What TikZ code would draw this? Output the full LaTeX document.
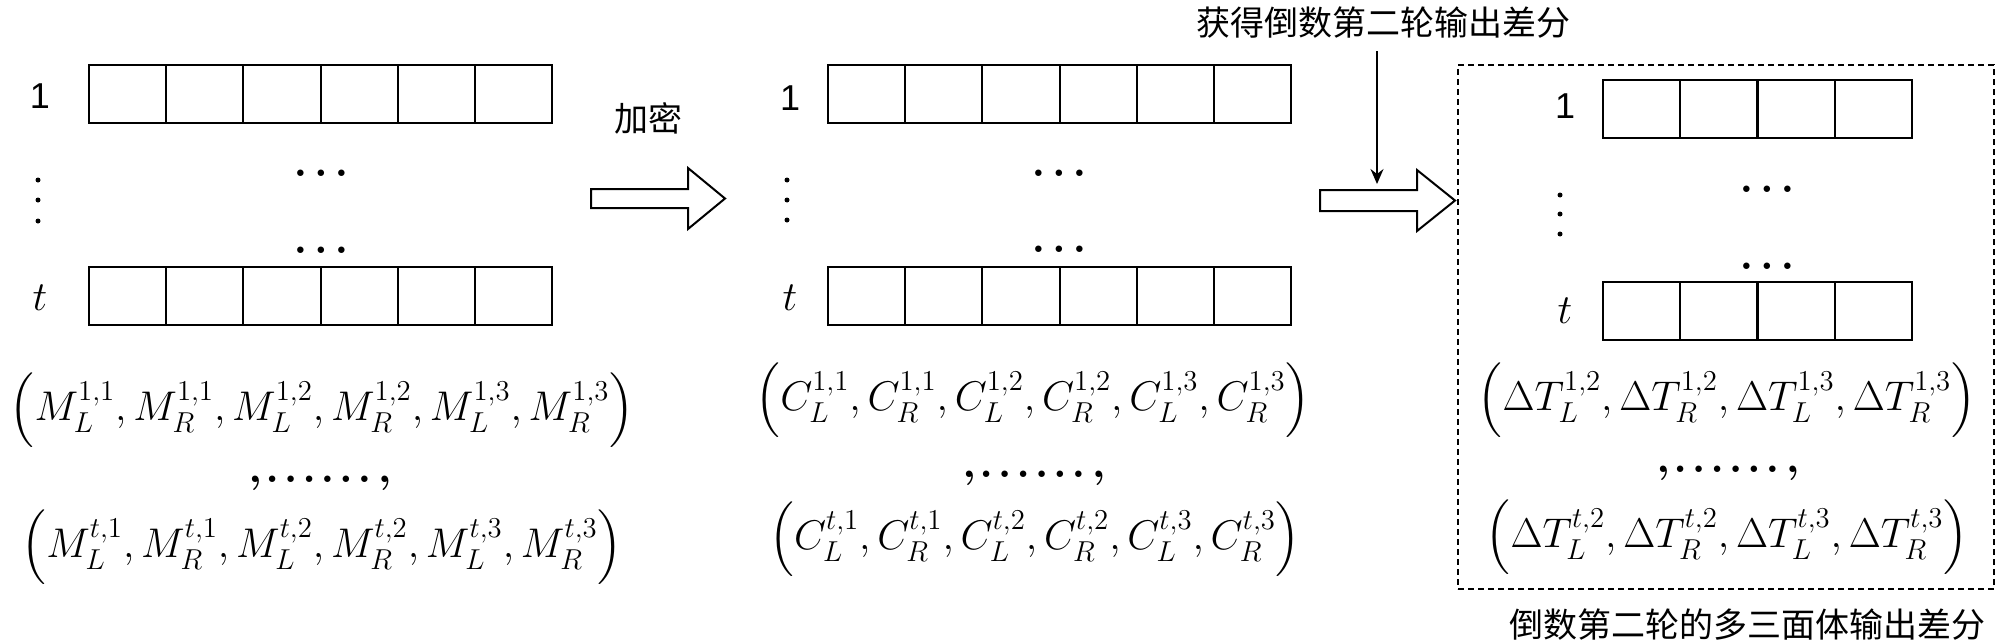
\documentclass[tikz,border=0pt]{standalone}
\usepackage{amsmath}
\usepackage{fontspec}
\newfontfamily\cjk{Noto Sans CJK SC}
\newfontfamily\lsans{Liberation Sans}
\usetikzlibrary{arrows.meta}
\newcommand\hdotsr{.\kern3.6pt.\kern3.6pt.}
\newcommand\sixdots{,\kern-2pt.\kern2.6pt.\kern2.6pt.\kern2.6pt.\kern2.6pt.\kern2.6pt.\kern3.5pt,}
\tikzset{
  cell/.style={draw, line width=1pt, minimum width=38.6pt, minimum height=29pt, inner sep=0pt, outer sep=0pt, anchor=north west},
  cjktext/.style={font=\cjk\fontsize{17}{20}\selectfont, inner sep=0pt},
  mathtext/.style={font=\fontsize{21}{25}\selectfont, inner sep=0pt},
  dotstext/.style={font=\fontsize{21}{25}\selectfont\boldmath, inner sep=0pt},
  vdot/.style={circle, fill, minimum size=2.5pt, inner sep=0pt},
  numlabel/.style={font=\lsans\fontsize{18}{20}\selectfont, inner sep=0pt},
  blockarrow/.style={draw, line width=1pt, fill=white, line join=miter},
  dashbox/.style={draw, line width=0.8pt, dash pattern=on 3pt off 2pt},
  thinarrow/.style={draw, line width=0.8pt, -{Stealth[length=7.5pt,width=6.5pt,inset=2.5pt]}}
}
\begin{document}
\begin{tikzpicture}[x=0.5pt,y=-0.5pt]
\useasboundingbox (0,0) rectangle (2000,643);
% ---------- left block ----------
\foreach \i in {0,...,5} {
  \node[cell] (La\i) at ({89+77.17*\i},65) {};
  \node[cell] (Lb\i) at ({89+77.17*\i},267) {};
}
\node[numlabel] (Lone) at (40,96) {1};
\node[mathtext] (Lt) at (40,298) {$t$};
\foreach \j/\y in {1/180,2/200,3/221} \node[vdot] (Lv\j) at (38,\y) {};
\node[dotstext] (Lhd1) at (321,173) {$\hdotsr$};
\node[dotstext] (Lhd2) at (321,250) {$\hdotsr$};
\node[mathtext] (Ltup1) at (322,410) {$\Bigl(M_L^{1,1},M_R^{1,1},M_L^{1,2},M_R^{1,2},M_L^{1,3},M_R^{1,3}\Bigr)$};
\node[dotstext] (Ldots) at (320,483) {$\sixdots$};
\node[mathtext] (Ltupt) at (322,547) {$\Bigl(M_L^{t,1},M_R^{t,1},M_L^{t,2},M_R^{t,2},M_L^{t,3},M_R^{t,3}\Bigr)$};
% ---------- arrow 1 ----------
\node[cjktext] (enc) at (648,118) {加密};
\draw[blockarrow] (591,189) -- (688,189) -- (688,168) -- (725,198.5) -- (688,229) -- (688,208) -- (591,208) -- cycle;
% ---------- middle block ----------
\foreach \i in {0,...,5} {
  \node[cell] (Ma\i) at ({828+77.17*\i},65) {};
  \node[cell] (Mb\i) at ({828+77.17*\i},267) {};
}
\node[numlabel] (Mone) at (790,98) {1};
\node[mathtext] (Mt) at (790,298) {$t$};
\foreach \j/\y in {1/180,2/200,3/220} \node[vdot] (Mv\j) at (787,\y) {};
\node[dotstext] (Mhd1) at (1059,173) {$\hdotsr$};
\node[dotstext] (Mhd2) at (1059,249) {$\hdotsr$};
\node[mathtext] (Mtup1) at (1033,400) {$\Bigl(C_L^{1,1},C_R^{1,1},C_L^{1,2},C_R^{1,2},C_L^{1,3},C_R^{1,3}\Bigr)$};
\node[dotstext] (Mdots) at (1034,478) {$\sixdots$};
\node[mathtext] (Mtupt) at (1035,539) {$\Bigl(C_L^{t,1},C_R^{t,1},C_L^{t,2},C_R^{t,2},C_L^{t,3},C_R^{t,3}\Bigr)$};
% ---------- arrow 2 ----------
\node[cjktext] (get) at (1383,23) {获得倒数第二轮输出差分};
\coordinate (vtop) at (1377,51);
\coordinate (vend) at (1377,184);
\draw[thinarrow] (vtop) -- (vend);
\draw[blockarrow] (1320,190) -- (1417,190) -- (1417,170) -- (1455,200.5) -- (1417,231) -- (1417,211) -- (1320,211) -- cycle;
% ---------- right block ----------
\node[dashbox, minimum width=268pt, minimum height=262pt, inner sep=0pt, outer sep=0pt, anchor=north west] (box) at (1458,65) {};
\foreach \i in {0,...,3} {
  \node[cell] (Ra\i) at ({1603+77.25*\i},80) {};
  \node[cell] (Rb\i) at ({1603+77.25*\i},282) {};
}
\node[numlabel] (Rone) at (1565,106) {1};
\node[mathtext] (Rt) at (1565,311) {$t$};
\foreach \j/\y in {1/195,2/214,3/234} \node[vdot] (Rv\j) at (1560,\y) {};
\node[dotstext] (Rhd1) at (1767,189) {$\hdotsr$};
\node[dotstext] (Rhd2) at (1767,266) {$\hdotsr$};
\node[mathtext] (Rtup1) at (1727,400) {$\Bigl(\Delta T_L^{1,2},\Delta T_R^{1,2},\Delta T_L^{1,3},\Delta T_R^{1,3}\Bigr)$};
\node[dotstext] (Rdots) at (1728,473) {$\sixdots$};
\node[mathtext] (Rtupt) at (1727,537) {$\Bigl(\Delta T_L^{t,2},\Delta T_R^{t,2},\Delta T_L^{t,3},\Delta T_R^{t,3}\Bigr)$};
\node[cjktext] (cap) at (1747,625) {倒数第二轮的多三面体输出差分};
\end{tikzpicture}
\end{document}
